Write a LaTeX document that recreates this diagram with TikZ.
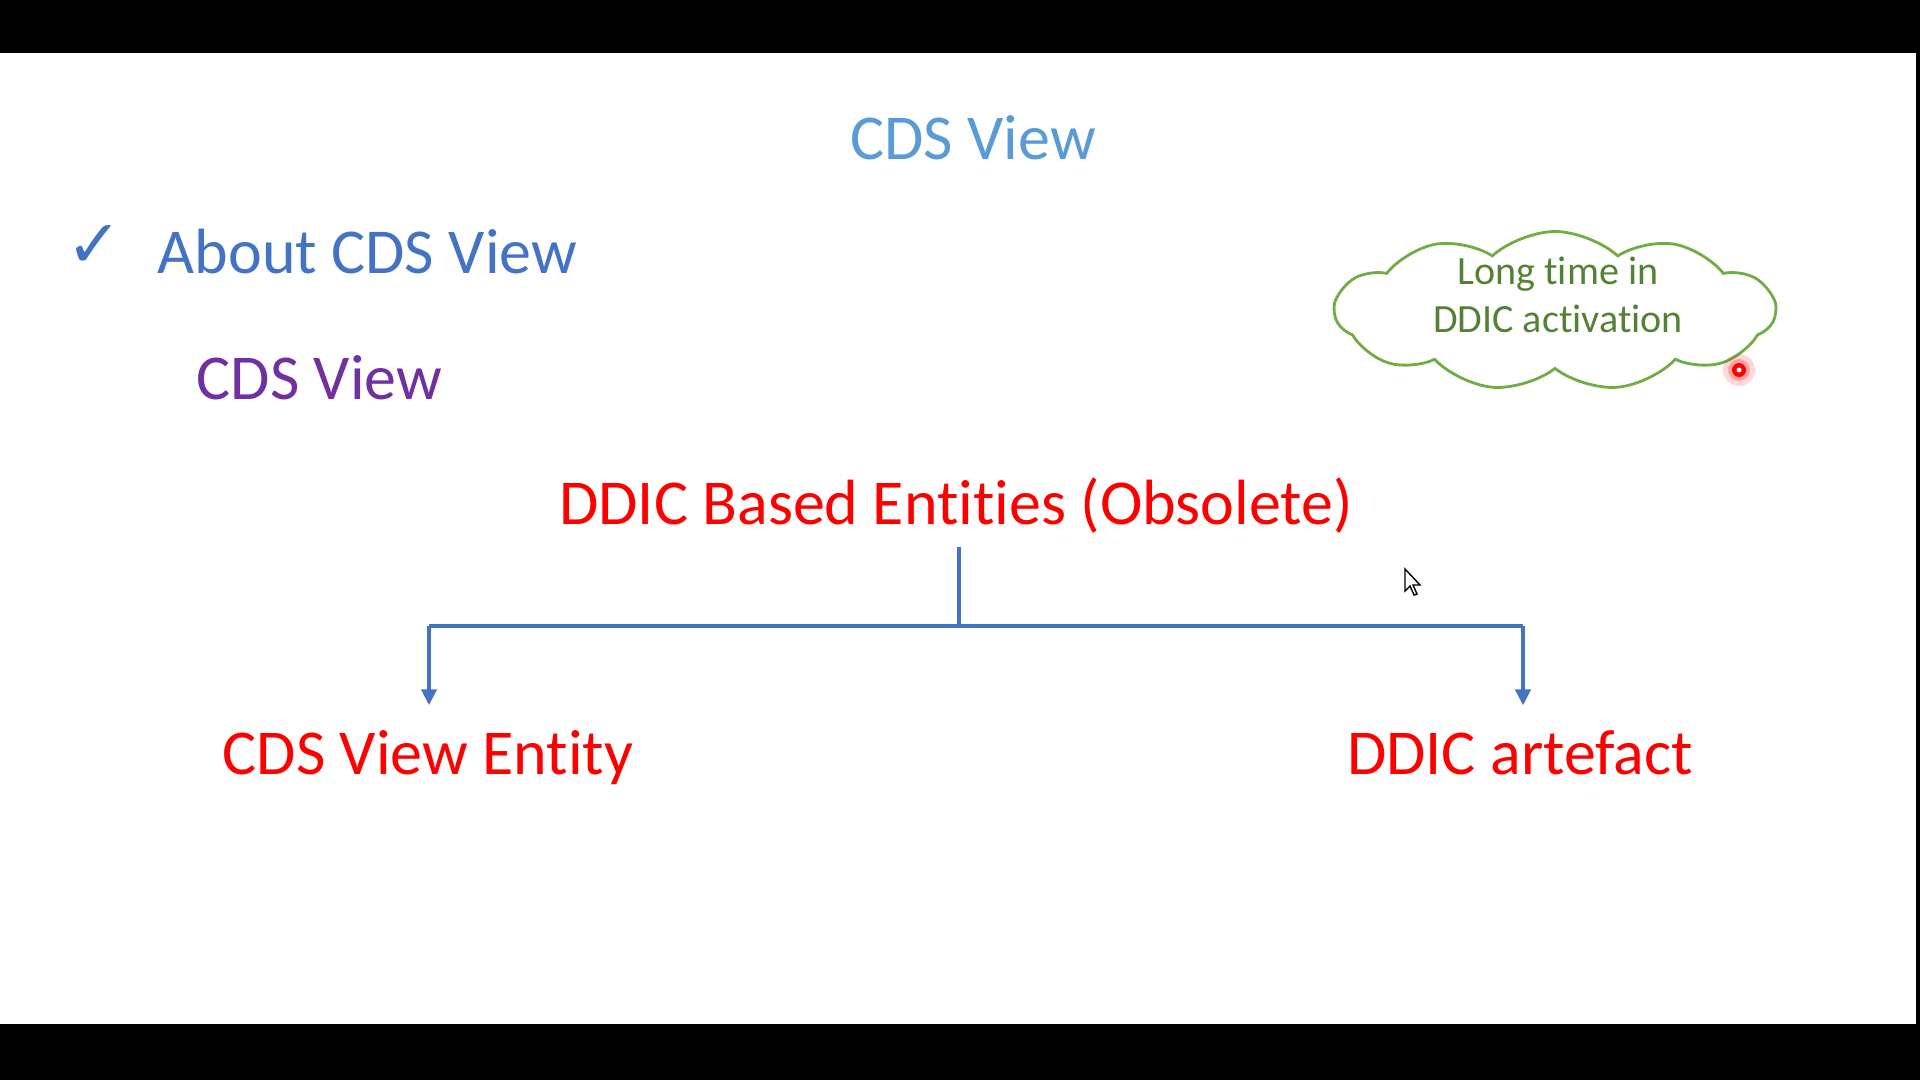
\documentclass[tikz,border=0pt]{standalone}
\usepackage{fontspec}
\setmainfont{Carlito}[Ligatures=NoCommon]
\newfontfamily\symfont{DejaVu Sans}
\usetikzlibrary{arrows.meta,shapes.symbols}
\definecolor{titleblue}{HTML}{5B9BD5}
\definecolor{headblue}{HTML}{4472C4}
\definecolor{viewpurple}{HTML}{7030A0}
\definecolor{cloudgreen}{HTML}{70AD47}
\definecolor{cloudtext}{HTML}{548235}
\begin{document}
\begin{tikzpicture}[
    big/.style={font=\fontsize{18.2}{22}\selectfont, inner sep=0pt},
    red text/.style={big, text=red},
    branch/.style={draw=headblue, line width=1.3pt},
    down arrow/.style={branch, -{Triangle[length=1.6mm,width=1.5mm]}}
  ]
        % Slide frame
        \useasboundingbox (0,0) rectangle (19.2,-10.8);
        \fill[black] (0,0) rectangle (19.2,-0.53);
        \fill[black] (0,-10.24) rectangle (19.2,-10.8);
        \fill[black] (19.16,0) rectangle (19.2,-10.8);

        % Headings
        \node[big, text=titleblue, anchor=base] (title) at (9.73,-1.60) {CDS View};
        \node[inner sep=0pt, text=headblue, font=\symfont\fontsize{19}{22}\selectfont] (tick) at (0.94,-2.46) {✓};
        \node[big, text=headblue, anchor=base west] (about) at (1.57,-2.74) {About CDS View};
        \node[big, text=viewpurple, anchor=base west] (cds) at (1.96,-3.99) {CDS View};

        % Tree
        \node[red text, anchor=base] (ddic) at (9.56,-5.24) {DDIC Based Entities (Obsolete)};
        \node[red text, anchor=base] (entity) at (4.28,-7.74) {CDS View Entity};
        \node[red text, anchor=base] (artefact) at (15.20,-7.74) {DDIC artefact};

        \coordinate (fork) at (9.59,-6.26);
        \coordinate (left) at (4.29,-6.26);
        \coordinate (right) at (15.23,-6.26);

        \draw[branch] (9.59,-5.47) -- (fork);
        \draw[branch] (left) -- (right);
        \draw[down arrow] (left) -- ([yshift=2.4mm]left |- entity.north);
        \draw[down arrow] (right) -- ([yshift=2.4mm]right |- artefact.north);

        % Cloud callout
        \node[cloud, draw=cloudgreen, line width=0.8pt, cloud puffs=11, cloud puff arc=85,
              minimum width=4.40cm, minimum height=1.59cm, aspect=2.8, inner sep=0pt]
              (cloud) at (15.55,-3.11) {};
        \node[align=center, text=cloudtext, font=\fontsize{11.4}{13.6}\selectfont, inner sep=0pt]
              (cloudlabel) at (15.58,-2.95) {Long time in\\DDIC activation};

        % Laser pointer and mouse cursor
        \fill[red, opacity=0.15] (17.39,-3.70) circle (0.16);
        \fill[red, opacity=0.25] (17.39,-3.70) circle (0.11);
        \fill[red] (17.39,-3.70) circle (0.07);
        \fill[white] (17.39,-3.70) circle (0.025);
        \draw[black, line width=0.4pt, fill=white] (14.05,-5.69) -- (14.05,-5.91) -- (14.10,-5.86)
             -- (14.14,-5.95) -- (14.17,-5.94) -- (14.13,-5.85) -- (14.20,-5.85) -- cycle;
    \end{tikzpicture}
\end{document}
